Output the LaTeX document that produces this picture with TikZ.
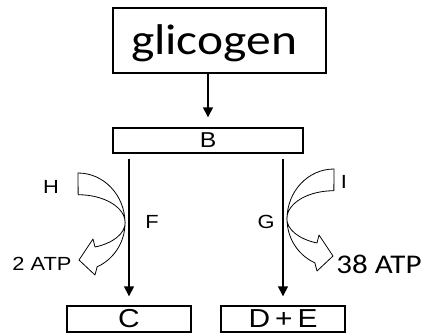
\documentclass[tikz,border=0pt]{standalone}
\usepackage{fontspec}
\setmainfont{Liberation Sans}
\newfontfamily\calfont{Carlito}
\usetikzlibrary{arrows.meta}
\newcommand\wide[1]{\scalebox{1.15}[1]{#1}}

\tikzset{
  box/.style={draw,line width=1.4pt,inner sep=0pt},
  flow/.style={line width=1.4pt,-{Triangle[length=10pt,width=10pt]}},
  bendline/.style={draw,line width=0.8pt,line join=round},
  lbl/.style={font=\fontsize{19}{19}\selectfont},
  bendarrow/.pic={
    \draw[bendline] (-47,50) arc[start angle=90,end angle=0,x radius=47pt,y radius=50pt]
      arc[start angle=0,end angle=-66,x radius=47pt,y radius=48pt]
      -- (-30,-52) -- (-46,-37) -- (-32,-16) -- (-30,-24)
      arc[start angle=-69,end angle=0,x radius=47pt,y radius=26pt]
      arc[start angle=0,end angle=90,x radius=47pt,y radius=28pt] -- cycle;
  }
}

\begin{document}
\begin{tikzpicture}[x=1pt,y=1pt]
	\useasboundingbox (0,0) rectangle (422,-334);
	%boxes
	\node[box,text width=177pt,inner xsep=18pt,align=left,text height=47pt,text depth=18pt,font=\calfont\fontsize{43}{43}\selectfont] (glicogen) at (219.5,-40.5) {\wide{glicogen}};
	\node[box,minimum width=190pt,minimum height=25pt,font=\fontsize{21.5}{21.5}\selectfont] (B) at (208,-140.5) {\wide{B}};
	\node[box,minimum width=124pt,minimum height=26pt,font=\fontsize{26}{26}\selectfont] (C) at (129,-319) {\wide{C}};
	\node[box,minimum width=124pt,minimum height=26pt,font=\fontsize{26}{26}\selectfont] (DE) at (283,-319) {\wide{D\,+\,E}};
	
	%arrows
	\draw[flow,shorten >=10pt] (glicogen.south -| B.north) -- (B.north);
	\draw[flow,shorten <=5pt,shorten >=9pt] (B.south -| C.north) -- (C.north);
	\draw[flow,shorten <=5pt,shorten >=9pt] (B.south -| DE.north) -- (DE.north);
	
	%ATP
	\pic at (125,-223) {bendarrow};
	\pic[xscale=-1] at (287,-219) {bendarrow};
	\node[lbl] (H) at (51,-187) {\wide{H}};
	\node[lbl] (F) at (152,-222) {\wide{F}};
	\node[lbl] (G) at (266,-222) {\wide{G}};
	\node[lbl] (I) at (344,-182) {\wide{I}};
	\node[lbl] (twoatp) at (42,-263.5) {\wide{2 ATP}};
	\node[font=\calfont\fontsize{27}{27}\selectfont] (thirtyeight) at (379,-264.5) {\wide{38 ATP}};
\end{tikzpicture}
\end{document}
